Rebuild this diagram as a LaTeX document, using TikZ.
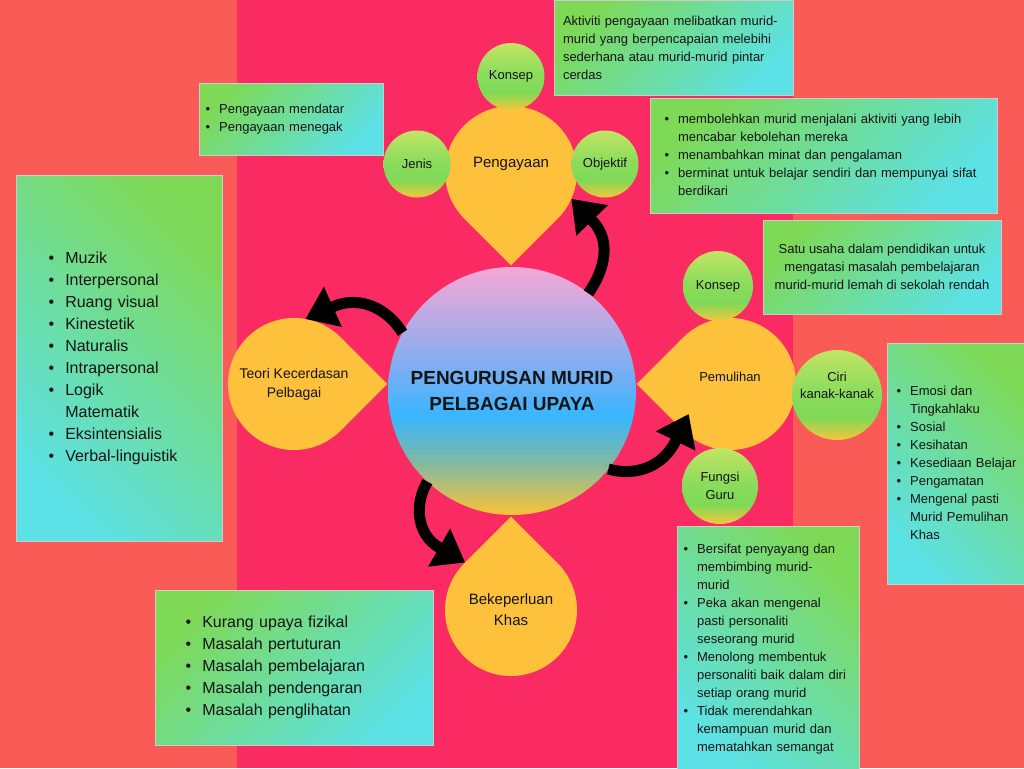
\documentclass[tikz,border=0pt]{standalone}
\usepackage{fontspec}
\setmainfont{Liberation Sans}
\usetikzlibrary{arrows.meta,positioning,calc}
\definecolor{karang}{RGB}{251,91,87}
\definecolor{merahjambu}{RGB}{250,42,98}
\definecolor{kuning}{RGB}{253,193,59}
\definecolor{hijau}{RGB}{126,217,87}
\definecolor{biru}{RGB}{92,225,230}
\definecolor{teks}{RGB}{20,20,20}
\definecolor{limau}{RGB}{195,228,100}
\definecolor{hijaulembut}{RGB}{140,220,92}
\definecolor{emas}{RGB}{245,198,60}
\definecolor{pa}{RGB}{245,168,214}
\definecolor{pb}{RGB}{175,170,230}
\definecolor{pc}{RGB}{110,175,245}
\definecolor{pd}{RGB}{56,182,255}
\definecolor{pe}{RGB}{125,185,165}
\definecolor{pf}{RGB}{250,195,55}
\pgfdeclareverticalshading{bulathijau}{100bp}{color(0bp)=(emas); color(25bp)=(emas); color(38bp)=(hijau); color(52bp)=(hijaulembut); color(75bp)=(limau); color(100bp)=(limau)}
\pgfdeclareverticalshading{pusatgrad}{100bp}{color(0bp)=(pf); color(25bp)=(pf); color(36bp)=(pe); color(45bp)=(pd); color(52.5bp)=(pc); color(62.5bp)=(pb); color(75bp)=(pa); color(100bp)=(pa)}
\pgfdeclarelayer{dasar}
\pgfdeclarelayer{ujung}
\pgfsetlayers{dasar,ujung,main}
\newcommand{\senarai}[1]{\noindent\begin{tabular}{@{}l@{\hspace{0.7em}}l@{}}#1\end{tabular}}
\tikzset{
  kotak/.style={rectangle, draw=gray!40, line width=0.6pt, shading=axis, top color=hijau,
                bottom color=biru, text=teks, align=left, inner ysep=0pt,
                font=\fontsize{13}{18}\selectfont},
  kotakkiri/.style={kotak, shading angle=45},
  kotakkanan/.style={kotak, shading angle=-45},
  titis/.style={circle, fill=kuning, minimum size=132pt, inner sep=0pt, outer sep=0pt,
                text=teks, align=center, font=\fontsize{14}{19}\selectfont},
  bulat/.style={circle, shade, shading=bulathijau, inner sep=0pt, outer sep=0pt,
                text=teks, align=center, font=\fontsize{13}{17.5}\selectfont},
  pusatbulat/.style={circle, shade, shading=pusatgrad, minimum size=248pt, inner sep=0pt,
                outer sep=0pt, text=teks, align=center, font=\fontsize{19}{26}\selectfont\bfseries},
  tulis/.style={text=teks, align=center, font=\fontsize{13}{17}\selectfont},
  panah/.style={line width=11pt, black, -{Triangle[length=30pt,width=42pt]}},
}
\begin{document}
\begin{tikzpicture}[x=1pt, y=1pt]
\useasboundingbox (0,0) rectangle (1024,-768);
% latar
\begin{pgfonlayer}{dasar}
\fill[karang] (0,0) rectangle (1024,-768);
\fill[merahjambu] (237,0) rectangle (793,-768);
\end{pgfonlayer}

% kotak maklumat
\node[kotakkiri, minimum width=184pt, minimum height=72pt, inner xsep=6.5pt, text width=171pt] (kotakJenis) at (291,-119)
  {\senarai{\textbullet & Pengayaan mendatar\\ \textbullet & Pengayaan menegak}};
\node[kotakkiri, minimum width=239pt, minimum height=95pt, inner xsep=9pt, text width=221pt] (kotakKonsepA) at (673.5,-47.5)
  {Aktiviti pengayaan melibatkan murid-\\murid yang berpencapaian melebihi\\sederhana atau murid-murid pintar\\cerdas};
\node[kotakkiri, minimum width=347pt, minimum height=115pt, inner xsep=14.5pt, text width=318pt] (kotakObjektif) at (823.5,-155.5)
  {\senarai{\textbullet & membolehkan murid menjalani aktiviti yang lebih\\
            & mencabar kebolehan mereka\\
            \textbullet & menambahkan minat dan pengalaman\\
            \textbullet & berminat untuk belajar sendiri dan mempunyai sifat\\
            & berdikari}};
\node[kotakkiri, minimum width=238pt, minimum height=94pt, align=center] (kotakKonsepB) at (882,-267)
  {Satu usaha dalam pendidikan untuk\\mengatasi masalah pembelajaran\\murid-murid lemah di sekolah rendah};
\node[kotakkanan, minimum width=143pt, minimum height=241pt, inner xsep=9.5pt, text width=124pt] (kotakCiri) at (958.5,-463.5)
  {\senarai{\textbullet & Emosi dan\\ & Tingkahlaku\\ \textbullet & Sosial\\ \textbullet & Kesihatan\\
            \textbullet & Kesediaan Belajar\\ \textbullet & Pengamatan\\
            \textbullet & Mengenal pasti\\ & Murid Pemulihan\\ & Khas}};
\node[kotakkanan, minimum width=182pt, minimum height=246pt, inner xsep=6.5pt, text width=169pt] (kotakFungsi) at (768,-649)
  {\senarai{\textbullet & Bersifat penyayang dan\\ & membimbing murid-\\ & murid\\
            \textbullet & Peka akan mengenal\\ & pasti personaliti\\ & seseorang murid\\
            \textbullet & Menolong membentuk\\ & personaliti baik dalam diri\\ & setiap orang murid\\
            \textbullet & Tidak merendahkan\\ & kemampuan murid dan\\ & mematahkan semangat}};
\node[kotakkiri, minimum width=278pt, minimum height=155pt, inner xsep=30.5pt, text width=217pt,
      font=\fontsize{16}{22}\selectfont] (kotakBekep) at (294,-667.5)
  {\senarai{\textbullet & Kurang upaya fizikal\\ \textbullet & Masalah pertuturan\\
            \textbullet & Masalah pembelajaran\\ \textbullet & Masalah pendengaran\\
            \textbullet & Masalah penglihatan}};
\node[kotakkanan, minimum width=206pt, minimum height=366pt, inner xsep=32.5pt, text width=141pt,
      font=\fontsize{16}{22}\selectfont] (kotakTeori) at (119,-358)
  {\senarai{\textbullet & Muzik\\ \textbullet & Interpersonal\\ \textbullet & Ruang visual\\
            \textbullet & Kinestetik\\ \textbullet & Naturalis\\ \textbullet & Intrapersonal\\
            \textbullet & Logik\\ & Matematik\\ \textbullet & Eksintensialis\\
            \textbullet & Verbal-linguistik}};

% titisan kuning
\node[titis, label={[tulis, yshift=8pt, font=\fontsize{15}{18}\selectfont]center:Pengayaan}] (peng) at (511,-172) {};
\node[titis] (teori) at (294,-384) {Teori Kecerdasan\\Pelbagai};
\node[titis, label={[tulis, yshift=7pt]center:Pemulihan}] (pemul) at (730,-384) {};
\node[titis, font=\fontsize{15}{21}\selectfont] (bekep) at (511,-610) {Bekeperluan\\Khas};
\begin{pgfonlayer}{ujung}
\foreach \n/\a in {peng/-90, teori/0, pemul/180, bekep/90}
  \fill[kuning] ($(\n.center)+({\a+45}:66)$) -- ($(\n.center)+(\a:93.3)$) -- ($(\n.center)+({\a-45}:66)$) -- cycle;
\end{pgfonlayer}

% bulatan kecil
\node[bulat, minimum size=67pt, above=-4pt of peng] (konsepA) {Konsep};
\node[bulat, minimum size=67pt] (jenis) at (417,-164) {Jenis};
\node[bulat, minimum size=67pt] (objektif) at (605,-164) {Objektif};
\node[bulat, minimum size=70pt] (konsepB) at (718,-286) {Konsep};
\node[bulat, minimum size=90pt, label={[tulis, yshift=10pt]center:{Ciri\\kanak-kanak}}] (ciri) at (837,-395) {};
\node[bulat, minimum size=76pt] (fungsi) at (720,-486) {Fungsi\\Guru};

% pusat
\node[pusatbulat] (pusat) at (512,-391) {PENGURUSAN MURID\\PELBAGAI UPAYA};

% anak panah
\draw[panah] (pusat.52) to[out=55, in=-46] ($(peng.-24)+(-46:30)$) -- (peng.-24);
\draw[panah] (pusat.152) to[out=122, in=24] ($(teori.80)+(24:30)$) -- (teori.80);
\draw[panah] (pusat.-39) to[out=-16, in=244] ($(pemul.center)+(216:51)+(244:30)$) -- ($(pemul.center)+(216:51)$);
\draw[panah] (pusat.227) to[out=239, in=150] ($(bekep.134)+(150:30)$) -- (bekep.134);
\end{tikzpicture}
\end{document}
